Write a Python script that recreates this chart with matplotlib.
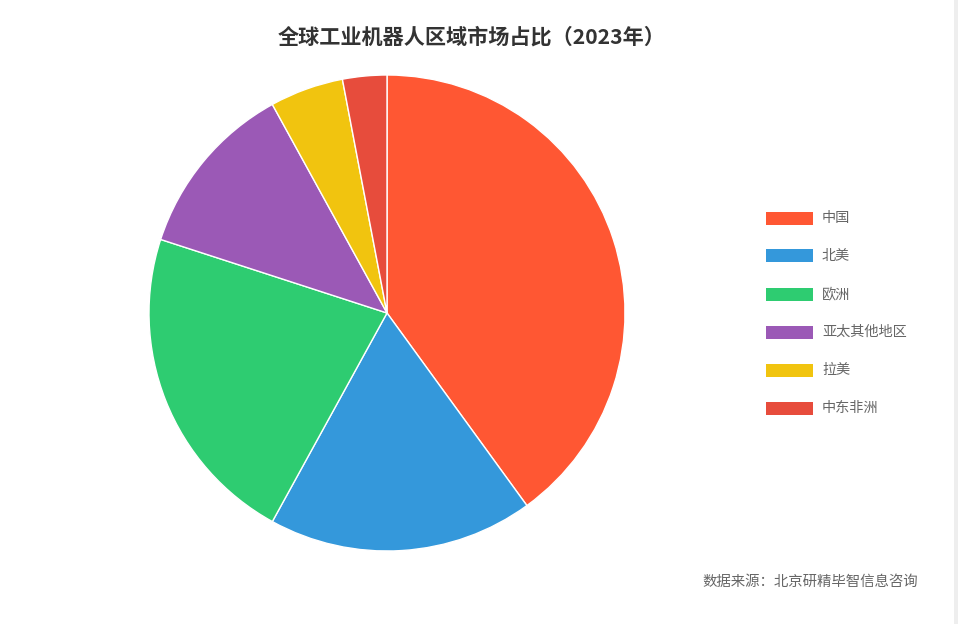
import matplotlib.pyplot as plt
from matplotlib.patches import Rectangle

plt.rcParams['font.family'] = ['Noto Sans CJK SC', 'DejaVu Sans']

# 数据
regions = ['中国', '北美', '欧洲', '亚太其他地区', '拉美', '中东非洲']
shares = [40, 18, 22, 12, 5, 3]
colors = ['#FF5733', '#3498DB', '#2ECC71', '#9B59B6', '#F1C40F', '#E74C3C']

W, H = 958, 624
fig = plt.figure(figsize=(W / 100, H / 100), dpi=100)
fig.patch.set_facecolor('white')

# 饼图区域 (像素: 圆心 387,313 半径 238)
cx, cy, r = 387, 313, 238
ax = fig.add_axes([(cx - r) / W, (H - cy - r) / H, 2 * r / W, 2 * r / H])
ax.pie(shares, colors=colors, startangle=90, counterclock=False,
       wedgeprops={'edgecolor': 'white', 'linewidth': 1})
ax.set_xlim(-1, 1)
ax.set_ylim(-1, 1)
ax.set_aspect('equal')

# 图例
for i, (name, c) in enumerate(zip(regions, colors)):
    y = 218 + i * 38
    fig.patches.append(Rectangle((766 / W, (H - y - 6.5) / H), 47 / W, 13 / H,
                                 transform=fig.transFigure, facecolor=c,
                                 edgecolor='none'))
    fig.text(822 / W, (H - y) / H, name, fontsize=10.2, color='#666666',
             va='center', ha='left')

# 标题
fig.text(472 / W, (H - 37) / H, '全球工业机器人区域市场占比（2023年）',
         fontsize=15.2, fontweight='bold', color='#333333',
         ha='center', va='center')

# 数据来源
fig.text(918 / W, (H - 582) / H, '数据来源：北京研精毕智信息咨询',
         fontsize=10.4, color='#666666', ha='right', va='center')

# 右侧边框
fig.patches.append(Rectangle((954 / W, 0), 4 / W, 1, transform=fig.transFigure,
                             facecolor='#EEEEEE', edgecolor='none'))

plt.savefig('out.png', dpi=100)
